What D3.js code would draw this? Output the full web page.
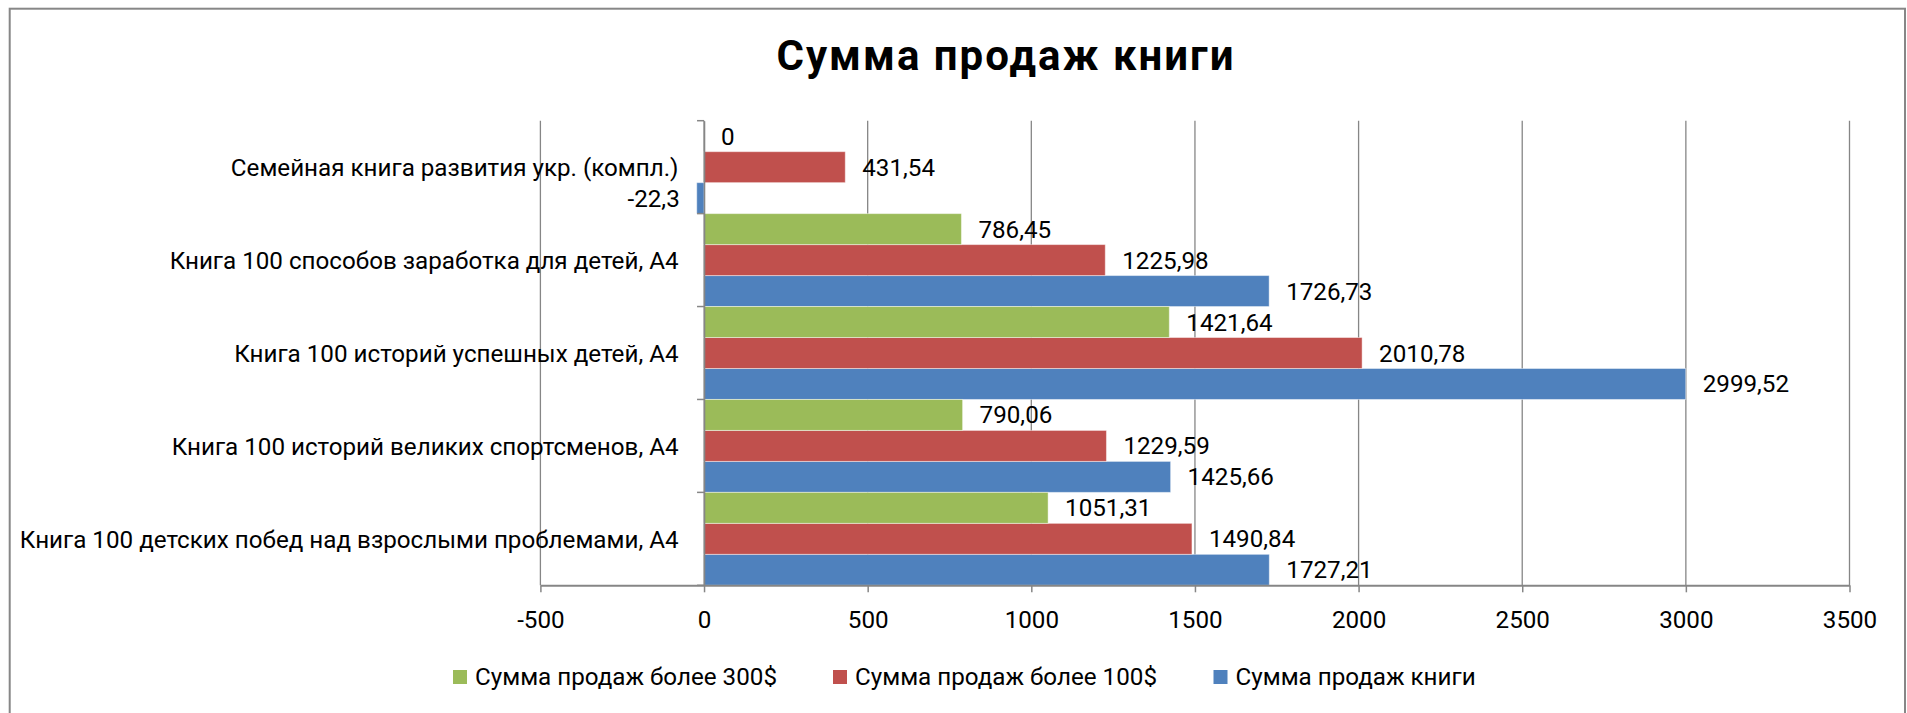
<!DOCTYPE html>
<html>
<head>
<meta charset="utf-8">
<script src="https://cdn.jsdelivr.net/npm/d3@7"></script>
<style>
  html, body { margin: 0; padding: 0; background: #fff; }
  svg { display: block; }
  text { font-family: Roboto, "Noto Sans", sans-serif; fill: #000; }
</style>
</head>
<body>
<svg id="chart" width="1907" height="713"></svg>
<script>
// ---- data ----
const title = "Сумма продаж книги";
const categories = [
  "Книга 100 детских побед над взрослыми проблемами, А4",
  "Книга 100 историй великих спортсменов, А4",
  "Книга 100 историй успешных детей, А4",
  "Книга 100 способов заработка для детей, А4",
  "Семейная книга развития укр. (компл.)"
];
const seriesNames = ["Сумма продаж книги", "Сумма продаж более 100$", "Сумма продаж более 300$"];
const salesTotal = [1727.21, 1425.66, 2999.52, 1726.73, -22.3];
const salesOver100 = [1490.84, 1229.59, 2010.78, 1225.98, 431.54];
const salesOver300 = [1051.31, 790.06, 1421.64, 786.45, 0];
const xTicks = [-500, 0, 500, 1000, 1500, 2000, 2500, 3000, 3500];
const colors = ["#4F81BD", "#C0504D", "#9BBB59"];

// ---- layout ----
const svg = d3.select("#chart");
const plot = { left: 540.4, right: 1849.5, top: 120.7, bottom: 585.3 };
const fontSize = 24.2;

// border
svg.append("rect")
  .attr("x", 9.7).attr("y", 8.7).attr("width", 1895.3).attr("height", 720)
  .attr("fill", "#fff").attr("stroke", "#878787").attr("stroke-width", 2);

// title
svg.append("text")
  .attr("x", 1006).attr("y", 70)
  .attr("text-anchor", "middle")
  .attr("font-size", 42).attr("font-weight", "bold")
  .attr("letter-spacing", 2)
  .text(title);

const x = d3.scaleLinear().domain([-500, 3500]).range([plot.left, plot.right]);
// categories: first at bottom
const y = d3.scaleBand().domain(categories.slice().reverse()).range([plot.top, plot.bottom]).padding(0);
// series inside band: green top, red middle, blue bottom
const seriesOrder = [2, 1, 0];
const ys = d3.scaleBand().domain(seriesOrder).range([0, y.bandwidth()]).padding(0);

// gridlines
svg.append("g").selectAll("line").data(xTicks).join("line")
  .attr("x1", d => x(d)).attr("x2", d => x(d))
  .attr("y1", plot.top).attr("y2", plot.bottom)
  .attr("stroke", "#868686").attr("stroke-width", 1.3);

// bars
const seriesData = [salesTotal, salesOver100, salesOver300];
const barG = svg.append("g");
seriesData.forEach((vals, si) => {
  barG.selectAll(null).data(vals.map((v, i) => ({ v, cat: categories[i] }))).join("rect")
    .attr("x", d => x(Math.min(0, d.v)))
    .attr("width", d => Math.abs(x(d.v) - x(0)))
    .attr("y", d => y(d.cat) + ys(si))
    .attr("height", ys.bandwidth())
    .attr("fill", colors[si])
    .attr("stroke", "rgba(255,255,255,0.45)")
    .attr("stroke-width", 1);
});

// y axis (at zero)
const yAxis = d3.axisLeft(y).tickSize(0).tickPadding(704 - 678.5);
const yAxisG = svg.append("g").attr("transform", `translate(${x(0)},0)`).call(yAxis);
yAxisG.select(".domain").attr("stroke", "#868686").attr("stroke-width", 1.5);
yAxisG.selectAll("text").attr("font-size", fontSize).attr("font-family", "Roboto").attr("dy", "0.36em");
// category boundary ticks
const bounds = categories.map(c => y(c)).concat([plot.bottom]);
svg.append("g").selectAll("line").data(bounds).join("line")
  .attr("x1", x(0) - 7).attr("x2", x(0))
  .attr("y1", d => d).attr("y2", d => d)
  .attr("stroke", "#868686").attr("stroke-width", 1.5);

// x axis
const xAxis = d3.axisBottom(x).tickValues(xTicks).tickSizeInner(7).tickSizeOuter(0).tickFormat(d => String(d));
const xAxisG = svg.append("g").attr("transform", `translate(0,${plot.bottom})`).call(xAxis);
xAxisG.select(".domain").attr("stroke", "#868686").attr("stroke-width", 2);
xAxisG.selectAll(".tick line").attr("stroke", "#868686").attr("stroke-width", 1.5);
xAxisG.selectAll("text").attr("font-size", fontSize).attr("font-family", "Roboto")
  .attr("y", 628 - plot.bottom).attr("dy", 0);

// data labels
const fmt = v => String(v).replace(".", ",");
const labelG = svg.append("g");
seriesData.forEach((vals, si) => {
  labelG.selectAll(null).data(vals.map((v, i) => ({ v, cat: categories[i] }))).join("text")
    .attr("x", d => d.v < 0 ? x(d.v) - 17 : x(d.v) + 17)
    .attr("y", d => y(d.cat) + ys(si) + ys.bandwidth() / 2 + 8.5)
    .attr("text-anchor", d => d.v < 0 ? "end" : "start")
    .attr("font-size", fontSize)
    .text(d => fmt(d.v));
});

// legend
const legendItems = [2, 1, 0];
const legendX = [453, 833, 1213.5];
const lg = svg.append("g");
legendItems.forEach((si, k) => {
  lg.append("rect").attr("x", legendX[k]).attr("y", 670).attr("width", 14).attr("height", 14).attr("fill", colors[si]);
  lg.append("text").attr("x", legendX[k] + 22).attr("y", 685).attr("font-size", fontSize).text(seriesNames[si]);
});
</script>
</body>
</html>
